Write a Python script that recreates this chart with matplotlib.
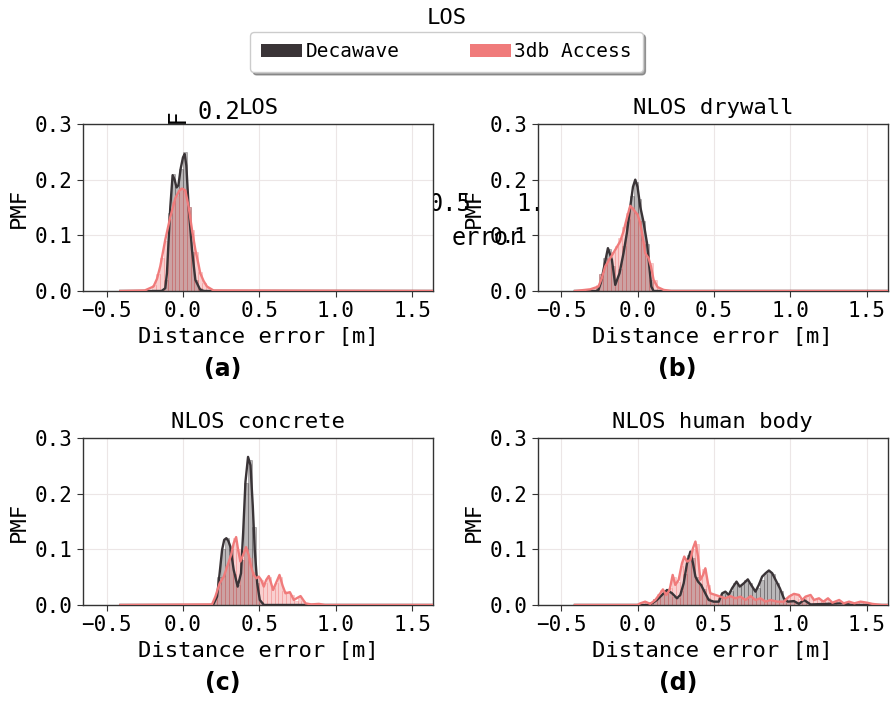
import numpy as np
import matplotlib
matplotlib.use("Agg")
import matplotlib.pyplot as plt
from matplotlib.patches import Patch

plt.rcParams['font.family'] = 'DejaVu Sans Mono'

# colours of the two receivers
dw_color = '#3a3437'
db_color = '#f07b7b'
series_names = ['Decawave', '3db Access']
panel_titles = ['LOS', 'NLOS drywall', 'NLOS concrete', 'NLOS human body']
panel_tags = ['(a)', '(b)', '(c)', '(d)']

bin_width = 0.025

# histogram bars: first bin centre + PMF per bin
a_dw_start = -0.1375
a_dw_pmf = [0.0, 0.02, 0.14, 0.21, 0.19, 0.22, 0.25, 0.15, 0.07, 0.02, 0.005]
a_db_start = -0.1875
a_db_pmf = [0.01, 0.03, 0.06, 0.09, 0.13, 0.16, 0.17, 0.185, 0.18, 0.15, 0.11,
            0.07, 0.035, 0.015, 0.005]

b_dw_start = -0.2625
b_dw_pmf = [0.005, 0.03, 0.06, 0.075, 0.045, 0.02, 0.04, 0.08, 0.13, 0.17,
            0.195, 0.165, 0.125, 0.085, 0.02, 0.0]
b_db_start = -0.2875
b_db_pmf = [0.005, 0.01, 0.03, 0.05, 0.06, 0.07, 0.08, 0.095, 0.115, 0.14,
            0.15, 0.14, 0.125, 0.09, 0.065, 0.05, 0.02, 0.005]

c_dw_start = 0.2125
c_dw_pmf = [0.01, 0.05, 0.10, 0.12, 0.10, 0.055, 0.035, 0.08, 0.22, 0.26,
            0.14, 0.04, 0.005]
c_db_start = 0.2125
c_db_pmf = [0.015, 0.035, 0.05, 0.07, 0.09, 0.12, 0.10, 0.085, 0.10, 0.085,
            0.06, 0.05, 0.045, 0.04, 0.05, 0.03, 0.04, 0.05, 0.025, 0.022,
            0.018, 0.008, 0.015, 0.008, 0.003, 0.001, 0.001, 0.002]

d_dw_start = 0.0625
d_dw_pmf = [0.002, 0.005, 0.01, 0.015, 0.02, 0.027, 0.024, 0.015, 0.013, 0.025,
            0.055, 0.09, 0.085, 0.05, 0.038, 0.028, 0.012, 0.006, 0.006, 0.012,
            0.022, 0.02, 0.026, 0.04, 0.036, 0.037, 0.044, 0.04, 0.028, 0.03,
            0.045, 0.056, 0.06, 0.055, 0.04, 0.026, 0.01, 0.006, 0.006, 0.004,
            0.004, 0.008, 0.004, 0.001]
d_db_start = 0.0125
d_db_pmf = [0.002, 0.005, 0.003, 0.004, 0.01, 0.02, 0.027, 0.02, 0.03, 0.05,
            0.042, 0.07, 0.085, 0.08, 0.10, 0.11, 0.05, 0.065, 0.035, 0.02,
            0.018, 0.015, 0.013, 0.013, 0.015, 0.012, 0.014, 0.012, 0.009, 0.015,
            0.01, 0.01, 0.011, 0.006, 0.008, 0.007, 0.006, 0.005, 0.007, 0.014,
            0.019, 0.018, 0.01, 0.013, 0.016, 0.015, 0.01, 0.011, 0.007, 0.01,
            0.006, 0.005, 0.008, 0.004, 0.004, 0.005, 0.003, 0.004, 0.005, 0.004,
            0.003, 0.001]

# smoothed density curves as (error, PMF) points
a_dw_kde = [(-0.41, 0), (-0.14, 0), (-0.116, 0.005), (-0.105, 0.032), (-0.094, 0.092),
            (-0.083, 0.151), (-0.068, 0.208), (-0.055, 0.2), (-0.042, 0.186),
            (-0.03, 0.19), (-0.015, 0.22), (0.0, 0.24), (0.011, 0.246), (0.022, 0.225),
            (0.037, 0.151), (0.059, 0.074), (0.081, 0.02), (0.113, 0.002), (0.14, 0),
            (1.7, 0)]
a_db_kde = [(-0.41, 0), (-0.25, 0.001), (-0.193, 0.008), (-0.17, 0.022), (-0.149, 0.044),
            (-0.116, 0.092), (-0.083, 0.133), (-0.05, 0.167), (-0.025, 0.18),
            (-0.007, 0.184), (0.015, 0.181), (0.037, 0.151), (0.059, 0.11),
            (0.081, 0.074), (0.1, 0.05), (0.113, 0.032), (0.135, 0.018),
            (0.157, 0.008), (0.2, 0.001), (1.7, 0)]

b_dw_kde = [(-0.41, 0), (-0.27, 0), (-0.256, 0.002), (-0.24, 0.015), (-0.223, 0.038),
            (-0.194, 0.077), (-0.168, 0.056), (-0.146, 0.011), (-0.118, 0.032),
            (-0.092, 0.068), (-0.07, 0.104), (-0.048, 0.151), (-0.03, 0.187),
            (-0.015, 0.2), (0.0, 0.187), (0.018, 0.151), (0.039, 0.124),
            (0.062, 0.086), (0.077, 0.044), (0.09, 0.008), (0.105, 0), (1.7, 0)]
b_db_kde = [(-0.41, 0), (-0.31, 0.003), (-0.256, 0.008), (-0.234, 0.023), (-0.212, 0.044),
            (-0.179, 0.059), (-0.146, 0.074), (-0.114, 0.089), (-0.092, 0.107),
            (-0.07, 0.131), (-0.048, 0.153), (-0.026, 0.146), (0.0, 0.137),
            (0.018, 0.122), (0.035, 0.095), (0.05, 0.068), (0.072, 0.059),
            (0.088, 0.044), (0.105, 0.02), (0.131, 0.007), (0.171, 0.002),
            (0.22, 0), (1.7, 0)]

c_dw_kde = [(-0.41, 0), (0.19, 0), (0.2, 0.002), (0.223, 0.015), (0.24, 0.057),
            (0.256, 0.099), (0.27, 0.117), (0.284, 0.12), (0.297, 0.115), (0.31, 0.105),
            (0.332, 0.063), (0.358, 0.033), (0.38, 0.057), (0.394, 0.13),
            (0.409, 0.221), (0.426, 0.266), (0.442, 0.251), (0.457, 0.178),
            (0.47, 0.099), (0.486, 0.039), (0.503, 0.009), (0.53, 0), (1.7, 0)]
c_db_kde = [(-0.41, 0), (0.19, 0.001), (0.212, 0.015), (0.24, 0.039), (0.267, 0.051),
            (0.293, 0.072), (0.315, 0.09), (0.332, 0.111), (0.348, 0.122),
            (0.361, 0.099), (0.376, 0.078), (0.394, 0.09), (0.413, 0.104),
            (0.43, 0.09), (0.446, 0.069), (0.463, 0.054), (0.481, 0.048),
            (0.496, 0.051), (0.512, 0.045), (0.529, 0.033), (0.545, 0.045),
            (0.562, 0.052), (0.576, 0.04), (0.59, 0.027), (0.61, 0.04),
            (0.632, 0.054), (0.652, 0.035), (0.671, 0.021), (0.7, 0.023),
            (0.726, 0.009), (0.75, 0.013), (0.77, 0.016), (0.802, 0.003),
            (0.84, 0.001), (0.89, 0.002), (0.93, 0), (1.7, 0)]

d_dw_kde = [(-0.41, 0), (0.06, 0), (0.083, 0.001), (0.127, 0.009), (0.16, 0.018),
            (0.193, 0.027), (0.226, 0.021), (0.258, 0.012), (0.28, 0.018),
            (0.302, 0.039), (0.324, 0.075), (0.346, 0.096), (0.363, 0.075),
            (0.379, 0.051), (0.396, 0.042), (0.416, 0.036), (0.438, 0.024),
            (0.466, 0.009), (0.499, 0.006), (0.532, 0.006), (0.554, 0.021),
            (0.575, 0.024), (0.597, 0.018), (0.619, 0.03), (0.648, 0.042),
            (0.669, 0.033), (0.696, 0.039), (0.722, 0.046), (0.744, 0.036),
            (0.772, 0.024), (0.794, 0.036), (0.816, 0.051), (0.838, 0.057),
            (0.86, 0.062), (0.882, 0.057), (0.904, 0.045), (0.932, 0.03),
            (0.958, 0.012), (0.984, 0.006), (1.024, 0.007), (1.057, 0.002),
            (1.09, 0.009), (1.133, 0.001), (1.35, 0.003), (1.4, 0), (1.7, 0)]
d_db_kde = [(-0.41, 0), (0.0, 0), (0.018, 0.003), (0.05, 0.006), (0.083, 0.002),
            (0.116, 0.009), (0.149, 0.021), (0.166, 0.028), (0.188, 0.018),
            (0.21, 0.027), (0.23, 0.054), (0.247, 0.036), (0.269, 0.045),
            (0.291, 0.075), (0.306, 0.087), (0.324, 0.078), (0.346, 0.081),
            (0.363, 0.102), (0.379, 0.114), (0.396, 0.087), (0.411, 0.045),
            (0.429, 0.054), (0.444, 0.066), (0.461, 0.039), (0.477, 0.021),
            (0.51, 0.018), (0.543, 0.015), (0.575, 0.012), (0.608, 0.016),
            (0.641, 0.012), (0.674, 0.015), (0.707, 0.009), (0.74, 0.016),
            (0.772, 0.009), (0.805, 0.012), (0.838, 0.006), (0.871, 0.009),
            (0.915, 0.006), (0.958, 0.006), (0.991, 0.015), (1.024, 0.02),
            (1.057, 0.018), (1.079, 0.009), (1.1, 0.015), (1.133, 0.018),
            (1.155, 0.009), (1.188, 0.012), (1.217, 0.006), (1.247, 0.012),
            (1.276, 0.004), (1.32, 0.009), (1.35, 0.003), (1.385, 0.006),
            (1.42, 0.003), (1.46, 0.006), (1.505, 0.004), (1.537, 0.002),
            (1.6, 0), (1.7, 0)]

panels = [
    ((a_dw_start, a_dw_pmf, a_dw_kde), (a_db_start, a_db_pmf, a_db_kde)),
    ((b_dw_start, b_dw_pmf, b_dw_kde), (b_db_start, b_db_pmf, b_db_kde)),
    ((c_dw_start, c_dw_pmf, c_dw_kde), (c_db_start, c_db_pmf, c_db_kde)),
    ((d_dw_start, d_dw_pmf, d_dw_kde), (d_db_start, d_db_pmf, d_db_kde)),
]

fig, axes = plt.subplots(2, 2, figsize=(8.93, 7.02), dpi=100)
fig.subplots_adjust(left=0.0929, right=0.9944, top=0.8234, bottom=0.1382,
                    wspace=0.297, hspace=0.88)

for ax, (dw, db), title, tag in zip(axes.flat, panels, panel_titles, panel_tags):
    for (start, pmf, kde), color in zip((dw, db), (dw_color, db_color)):
        centers = start + bin_width * np.arange(len(pmf))
        ax.bar(centers, pmf, width=bin_width, facecolor=color, alpha=0.35,
               edgecolor=color, linewidth=0.6, zorder=2)
    for (start, pmf, kde), color in zip((dw, db), (dw_color, db_color)):
        kx, ky = np.array(kde).T
        ax.plot(kx, ky, color=color, linewidth=1.7, zorder=3)

    ax.set_xlim(-0.655, 1.64)
    ax.set_ylim(0, 0.3)
    ax.set_xticks([-0.5, 0.0, 0.5, 1.0, 1.5])
    ax.set_yticks([0.0, 0.1, 0.2, 0.3])
    ax.tick_params(labelsize=15, length=4, color='0.2')
    ax.grid(True, color='#ece6e6', linewidth=0.8, zorder=0)
    ax.set_axisbelow(True)
    for sp in ax.spines.values():
        sp.set_color('0.2')
        sp.set_linewidth(1.0)
    ax.set_title(title, fontsize=16, pad=7)
    ax.set_xlabel('Distance error [m]', fontsize=16, labelpad=4)
    ax.set_ylabel('PMF', fontsize=16, labelpad=4)
    ax.text(0.4, -0.465, tag, transform=ax.transAxes, ha='center', va='center',
            fontsize=17, fontweight='bold', family='DejaVu Sans')

# stray labels of an underlying axes, partly covered by the panels
def px(x, y):
    return x / 893, 1 - y / 702

fig.text(*px(178, 108), 'PMF', rotation=90, ha='center', va='top', fontsize=17, zorder=-1)
fig.text(*px(240, 112), '0.2', ha='right', va='center', fontsize=17, zorder=-1)
fig.text(*px(429, 204), '0.5', ha='left', va='center', fontsize=17, zorder=-1)
fig.text(*px(516, 204), '1.0', ha='left', va='center', fontsize=17, zorder=-1)
fig.text(*px(452, 238), 'error', ha='left', va='center', fontsize=17, zorder=-1)

fig.text(0.5, 1 - 18 / 702, 'LOS', ha='center', va='center', fontsize=16)
handles = [Patch(facecolor=dw_color), Patch(facecolor=db_color)]
fig.legend(handles, series_names, loc='upper center', bbox_to_anchor=(0.5, 1 - 22 / 702),
           ncol=2, fontsize=14, columnspacing=3.6, handlelength=2.1, shadow=True,
           borderpad=0.55, handletextpad=0.2)

fig.savefig('out.png', dpi=100)
